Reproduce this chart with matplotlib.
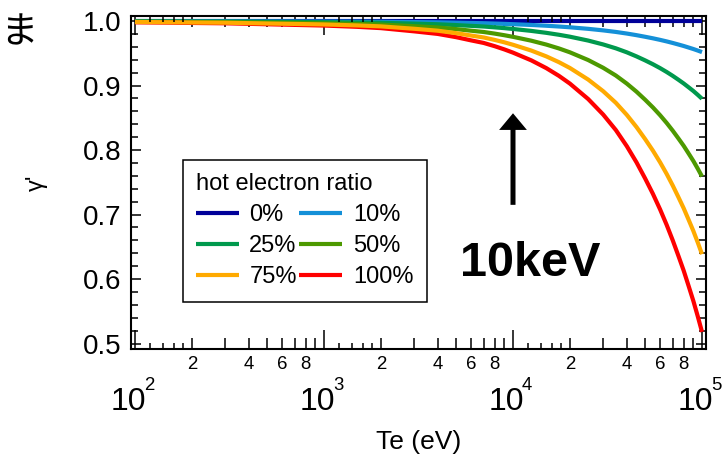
import numpy as np
import matplotlib
matplotlib.use("Agg")
import matplotlib.pyplot as plt
from matplotlib import font_manager, ticker, transforms
from matplotlib.lines import Line2D

# ---------------- data ----------------
te = [100, 150, 200, 300, 500, 700, 1000, 1500, 2000, 3000, 4000, 5000, 6000,
      7000, 8000, 9000, 10000, 12500, 15000, 17500, 20000, 25000, 30000, 35000,
      40000, 45000, 50000, 55000, 60000, 65000, 70000, 75000, 80000, 85000,
      90000, 95000, 100000]
g_0 = [1.000] * 37
g_10 = [0.9998, 0.9998, 0.9997, 0.9997, 0.9995, 0.9994, 0.9993, 0.9991, 0.9989,
        0.9984, 0.9980, 0.9975, 0.9970, 0.9966, 0.9961, 0.9956, 0.9951, 0.9939,
        0.9927, 0.9915, 0.9903, 0.9879, 0.9855, 0.9831, 0.9806, 0.9781, 0.9756,
        0.9732, 0.9708, 0.9684, 0.9660, 0.9636, 0.9613, 0.9589, 0.9566, 0.9542,
        0.9518]
g_25 = [0.9995, 0.9994, 0.9992, 0.9991, 0.9987, 0.9985, 0.9982, 0.9977, 0.9972,
        0.9960, 0.9950, 0.9937, 0.9925, 0.9915, 0.9902, 0.9890, 0.9877, 0.9847,
        0.9817, 0.9787, 0.9757, 0.9697, 0.9637, 0.9577, 0.9515, 0.9452, 0.9390,
        0.9330, 0.9270, 0.9210, 0.9150, 0.9090, 0.9032, 0.8972, 0.8915, 0.8855,
        0.8795]
g_50 = [0.9990, 0.9987, 0.9985, 0.9982, 0.9975, 0.9970, 0.9965, 0.9955, 0.9945,
        0.9920, 0.9900, 0.9875, 0.9850, 0.9830, 0.9805, 0.9780, 0.9755, 0.9695,
        0.9635, 0.9575, 0.9515, 0.9395, 0.9275, 0.9155, 0.9030, 0.8905, 0.8780,
        0.8660, 0.8540, 0.8420, 0.8300, 0.8180, 0.8065, 0.7945, 0.7830, 0.7710,
        0.7590]
g_75 = [0.9985, 0.9981, 0.9977, 0.9974, 0.9962, 0.9955, 0.9947, 0.9932, 0.9917,
        0.9880, 0.9850, 0.9812, 0.9775, 0.9745, 0.9707, 0.9670, 0.9632, 0.9542,
        0.9452, 0.9362, 0.9272, 0.9092, 0.8912, 0.8732, 0.8545, 0.8357, 0.8170,
        0.7990, 0.7810, 0.7630, 0.7450, 0.7270, 0.7097, 0.6917, 0.6745, 0.6565,
        0.6385]
g_100 = [0.9980, 0.9975, 0.9970, 0.9965, 0.9950, 0.9940, 0.9930, 0.9910, 0.9890,
         0.9840, 0.9800, 0.9750, 0.9700, 0.9660, 0.9610, 0.9560, 0.9510, 0.9390,
         0.9270, 0.9150, 0.9030, 0.8790, 0.8550, 0.8310, 0.8060, 0.7810, 0.7560,
         0.7320, 0.7080, 0.6840, 0.6600, 0.6360, 0.6130, 0.5890, 0.5660, 0.5420,
         0.5180]

series_labels = ["0%", "10%", "25%", "50%", "75%", "100%"]
series_values = [g_0, g_10, g_25, g_50, g_75, g_100]
series_colors = ["#000099", "#1490d8", "#00994d", "#4d9900", "#ffaa00", "#ff0000"]
series_z = [2, 3, 4, 5, 7, 6]

y_major_labels = ["0.5", "0.6", "0.7", "0.8", "0.9", "1.0"]
decade_exponents = ["2", "3", "4", "5"]
minor_label_digits = ["2", "4", "6", "8"]

# ---------------- fonts ----------------
names = {f.name for f in font_manager.fontManager.ttflist}
BASE = "Liberation Sans" if "Liberation Sans" in names else "DejaVu Sans"
HAS_NARROW = "Liberation Sans Narrow" in names
NARROW = "Liberation Sans Narrow" if HAS_NARROW else BASE
plt.rcParams["font.family"] = [BASE, "DejaVu Sans"]

W, H = 722, 459
fig = plt.figure(figsize=(W / 100, H / 100), dpi=100)
L, R, T, B = 131, 706, 16, 348.6
ax = fig.add_axes([L / W, 1 - B / H, (R - L) / W, (B - T) / H])

for lab, vals, col, z in zip(series_labels, series_values, series_colors, series_z):
    ax.plot(te, vals, color=col, lw=3.0, solid_capstyle="butt", zorder=z, label=lab)

ax.set_xscale("log")
ax.set_xlim(10 ** (2 - 4 / 189), 10 ** (5 + 4 / 189))
ax.set_ylim(0.4921, 1.0078)

# y ticks
ax.yaxis.set_major_locator(ticker.FixedLocator([float(s) for s in y_major_labels]))
ax.yaxis.set_major_formatter(ticker.FixedFormatter(y_major_labels))
ax.yaxis.set_minor_locator(ticker.MultipleLocator(0.02))

# x ticks
ax.xaxis.set_major_locator(ticker.LogLocator(base=10, numticks=10))
ax.xaxis.set_major_formatter(ticker.NullFormatter())
ax.xaxis.set_minor_locator(ticker.LogLocator(base=10, subs=np.arange(2, 10), numticks=50))


def minor_fmt(x, pos):
    e = np.floor(np.log10(x))
    m = str(int(round(x / 10 ** e)))
    return m if m in minor_label_digits else ""


ax.xaxis.set_minor_formatter(ticker.FuncFormatter(minor_fmt))

# extra short ticks at 1.2 .. 1.8 of each decade
ax2 = ax.twiny()
ax2.set_xscale("log")
ax2.set_xlim(ax.get_xlim())
ax2.xaxis.set_major_locator(ticker.LogLocator(base=10, subs=[1.2, 1.4, 1.6, 1.8], numticks=50))
ax2.xaxis.set_minor_locator(ticker.NullLocator())
ax2.tick_params(axis="x", which="major", direction="in", length=4.3, width=1.1,
                top=True, bottom=True, labeltop=False, labelbottom=False)
for sp in ax2.spines.values():
    sp.set_visible(False)

ax.tick_params(axis="both", which="both", direction="in", top=True, right=True,
               bottom=True, left=True, width=1.1, colors="black")
ax.tick_params(axis="y", which="major", length=7.5, pad=7, labelsize=20)
ax.tick_params(axis="y", which="minor", length=5)
ax.tick_params(axis="x", which="major", length=14)
ax.tick_params(axis="x", which="minor", length=8, labelsize=13.4, pad=5.5)
for sp in ax.spines.values():
    sp.set_linewidth(1.5)

# decade labels 10^k
blend = transforms.blended_transform_factory(ax.transData, ax.transAxes)
big = 27 if HAS_NARROW else 23
for ex in decade_exponents:
    xv = 10 ** int(ex)
    t1 = transforms.offset_copy(blend, fig=fig, x=-7, y=-(410 - B), units="dots")
    ax.text(xv, 0, "10", transform=t1, ha="center", va="baseline",
            fontsize=big, family=[NARROW, BASE], clip_on=False)
    t2 = transforms.offset_copy(blend, fig=fig, x=9, y=-(390 - B), units="dots")
    ax.text(xv, 0, ex, transform=t2, ha="left", va="baseline",
            fontsize=13.4, clip_on=False)

# axis labels
ax.set_xlabel("Te (eV)", fontsize=22 if HAS_NARROW else 19, family=[NARROW, BASE])
ax.xaxis.label.set_va("baseline")
ax.xaxis.set_label_coords(0.5, (B - 448.6) / (B - T))
ax.set_ylabel("γ'", fontsize=17)
ax.yaxis.set_label_coords((48 - L) / (R - L), 0.5)

# legend
order = [0, 2, 4, 1, 3, 5]
handles = [Line2D([], [], color=series_colors[i], lw=3.0, solid_capstyle="butt") for i in order]
labels = [series_labels[i] for i in order]
leg = ax.legend(handles, labels, ncol=2, loc="upper left",
                bbox_to_anchor=((182.5 - L) / (R - L), (B - 160) / (B - T)),
                borderaxespad=0, title="hot electron ratio", title_fontsize=17,
                fontsize=17, frameon=True, fancybox=False, edgecolor="black",
                framealpha=1, handlelength=1.82, handletextpad=0.45,
                columnspacing=0.1, labelspacing=0.385, borderpad=0.56,
                alignment="left")
leg.get_frame().set_linewidth(1.1)
leg.set_zorder(10)

# annotation arrow and text
arrow_x, arrow_tail, arrow_tip = 1e4, 0.715, 0.857
ax.annotate("", xy=(arrow_x, arrow_tip), xytext=(arrow_x, arrow_tail),
            arrowprops=dict(facecolor="black", edgecolor="black", width=3.6,
                            headwidth=20, headlength=12, shrink=0, linewidth=0))
ax.text(1.23e4, 0.604, "10keV", fontsize=35, fontweight="bold",
        ha="center", va="baseline")

CJK = ["Noto Sans CJK JP", "Noto Sans CJK SC", "DejaVu Sans"]
fig.text(0.0, 1 - 43 / H, "ま", fontsize=27, family=CJK, ha="left", va="baseline")

fig.savefig("out.png", dpi=100, facecolor="white")
